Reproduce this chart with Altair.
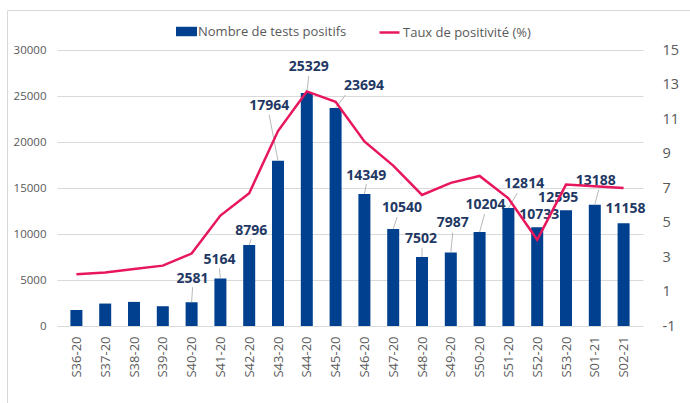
import altair as alt
import pandas as pd

# ---- data ----
weeks = ["S36-20", "S37-20", "S38-20", "S39-20", "S40-20", "S41-20", "S42-20",
         "S43-20", "S44-20", "S45-20", "S46-20", "S47-20", "S48-20", "S49-20",
         "S50-20", "S51-20", "S52-20", "S53-20", "S01-21", "S02-21"]
positive_tests = [1740, 2440, 2620, 2150, 2581, 5164, 8796, 17964, 25329, 23694,
                  14349, 10540, 7502, 7987, 10204, 12814, 10733, 12595, 13188, 11158]
positivity_rate = [2.0, 2.1, 2.3, 2.5, 3.2, 5.4, 6.7, 10.3, 12.6, 12.0,
                   9.7, 8.3, 6.6, 7.3, 7.7, 6.4, 4.0, 7.2, 7.1, 7.0]
labelled = [False, False, False, False] + [True] * 16

bar_name = "Nombre de tests positifs"
line_name = "Taux de positivité (%)"

# ---- layout (pixel offsets of the data labels and their leader lines) ----
W, H = 586, 276
label_dx = [0, 0, 0, 0, 1, -1, 2, -9, 2, 29, 2, 9, -1, 2, 6, 16, 2, -8, 1, 2]
label_dy = [0, 0, 0, 0, -23, -18.5, -14, -55, -26, -22, -18, -21, -18, -29.5,
            -27, -24, -12, -12, -24, -14]
leader_dx = [None, None, None, None, 1, -1, 2, -9, 2, 10, 2, 4, 0, 2, 5, 9,
             None, None, 4, None]
leader_dy = [None, None, None, None, -15, -10, -6, -46, -17, -13, -10, -12, -9,
             -20, -18, -15, None, None, -15, None]

px_cat = W / len(weeks)
px_cnt = H / 30000.0

rows = []
for i, w in enumerate(weeks):
    c = positive_tests[i]
    r = {
        "idx": i, "week": w, "count": c, "rate": positivity_rate[i],
        "labelled": labelled[i], "label": str(c),
        "lx": i + label_dx[i] / px_cat, "ly": c - label_dy[i] / px_cnt,
        "has_leader": leader_dx[i] is not None,
        "sx": i + (leader_dx[i] or 0) / px_cat,
        "sy": c - (leader_dy[i] or 0) / px_cnt,
        "s_bar": bar_name, "s_line": line_name,
    }
    rows.append(r)
df = pd.DataFrame(rows)

NAVY = "#01408e"
RED = "#e8175d"
LABEL_NAVY = "#1f3864"
GREY = "#595959"
FONT = "Open Sans"

week_expr = "[" + ",".join("'%s'" % w for w in weeks) + "][datum.value]"
x_scale = alt.Scale(domain=[-0.5, len(weeks) - 0.5], nice=False, zero=False)
x_axis = alt.Axis(values=list(range(len(weeks))), labelExpr=week_expr,
                  labelAngle=-90, labelFontSize=13, labelColor=GREY,
                  labelFont=FONT, labelPadding=10, domain=False,
                  labelOverlap=False, labelBound=False, labelFlush=False,
                  ticks=False, grid=False, title=None)

y_left = alt.Scale(domain=[0, 30000], nice=False, zero=False)
y_left_axis = alt.Axis(values=list(range(0, 30001, 5000)), labelFontSize=11.5,
                       labelExpr="'' + datum.value",
                       labelColor=GREY, labelFont=FONT, labelPadding=11,
                       domain=False, ticks=False, gridColor="#d9d9d9",
                       gridWidth=1, title=None)

base = alt.Chart(df)

bars = base.mark_bar(size=12).encode(
    x=alt.X("idx:Q", scale=x_scale, axis=x_axis),
    y=alt.Y("count:Q", scale=y_left, axis=y_left_axis),
    color=alt.Color("s_bar:N",
                    scale=alt.Scale(domain=[bar_name], range=[NAVY]),
                    legend=alt.Legend(orient="none", legendX=119, legendY=-29,
                                      title=None, symbolType="M-1,-0.45H1V0.45H-1Z",
                                      symbolSize=441, symbolStrokeWidth=0,
                                      symbolOpacity=1,
                                      labelFontSize=13, labelColor=GREY,
                                      labelFont=FONT, labelOffset=1)),
)

leaders = base.transform_filter("datum.has_leader").mark_rule(
    color="#a6a6a6", strokeWidth=0.8).encode(
    x=alt.X("sx:Q", scale=x_scale, axis=x_axis), x2="idx:Q",
    y=alt.Y("sy:Q", scale=y_left, axis=y_left_axis), y2="count:Q",
)

labels = base.transform_filter("datum.labelled").mark_text(
    font=FONT, fontSize=14, fontWeight="bold", color=LABEL_NAVY,
    baseline="middle", align="center").encode(
    x=alt.X("lx:Q", scale=x_scale, axis=x_axis),
    y=alt.Y("ly:Q", scale=y_left, axis=y_left_axis),
    text="label:N",
)

line = base.mark_line(strokeWidth=2.5).encode(
    x=alt.X("idx:Q", scale=x_scale, axis=x_axis),
    y=alt.Y("rate:Q", scale=alt.Scale(domain=[-1, 15], nice=False, zero=False),
            axis=alt.Axis(orient="right", values=list(range(-1, 16, 2)),
                          labelExpr="'' + datum.value",
                          labelFontSize=14.5, labelColor=GREY, labelFont=FONT,
                          labelPadding=19, labelAlign="left", domain=False,
                          ticks=False, grid=False, title=None)),
    stroke=alt.Stroke("s_line:N",
                      scale=alt.Scale(domain=[line_name], range=[RED]),
                      legend=alt.Legend(orient="none", legendX=321, legendY=-29,
                                        title=None, symbolType="stroke",
                                        symbolSize=400, symbolStrokeWidth=2.5,
                                        labelFontSize=13, labelColor=GREY,
                                        labelFont=FONT, labelOffset=2)),
)

frame = alt.Chart(pd.DataFrame({"a": [0]})).mark_rect(
    filled=False, stroke="#d9d9d9", strokeWidth=1).encode(
    x=alt.value(-49.5), x2=alt.value(W + 60), y=alt.value(-39.5), y2=alt.value(H + 90))

left = alt.layer(bars, leaders, labels)
chart = alt.layer(frame, left, line).resolve_scale(
    y="independent", color="independent", stroke="independent"
).properties(
    width=W, height=H,
    padding={"left": 57, "top": 50, "right": 47, "bottom": 77},
    autosize=alt.AutoSizeParams(type="none"),
    background="white",
).configure_view(stroke=None)

chart.save("out.html", embed_options={"renderer": "svg", "actions": False})
